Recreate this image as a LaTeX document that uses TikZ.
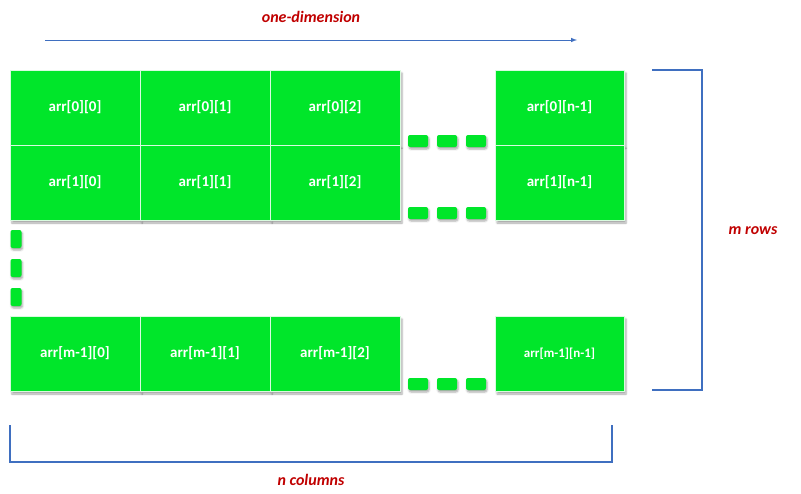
\documentclass[tikz,border=0pt]{standalone}
\usepackage{fontspec}
\setmainfont{Carlito}
\usetikzlibrary{shadows.blur}
\definecolor{cg}{HTML}{00E62A}
\definecolor{lb}{HTML}{3F6FC0}
\definecolor{dr}{HTML}{C00000}
\begin{document}
\begin{tikzpicture}[x=1pt,y=-1pt,
 cell/.style={fill=cg,draw=white!85!cg,line width=0.6pt,minimum width=130,minimum height=75,inner sep=0,text=white,font=\bfseries\fontsize{15}{15}\selectfont,blur shadow={shadow xshift=2pt,shadow yshift=-3pt,shadow opacity=35}},
 dot/.style={fill=cg,rounded corners=2pt,minimum width=20,minimum height=12,inner sep=0,blur shadow={shadow xshift=1pt,shadow yshift=-2pt,shadow opacity=35}},
 vdot/.style={fill=cg,rounded corners=2pt,minimum width=11,minimum height=18,inner sep=0,blur shadow={shadow xshift=1pt,shadow yshift=-2pt,shadow opacity=35}},
 lab/.style={text=dr,font=\bfseries\itshape\fontsize{16}{16}\selectfont},
 br/.style={draw=lb,line width=1.2pt}]
\useasboundingbox (0,0) rectangle (801,493);
\node[cell] (a00) at (75,107.5) {arr[0][0]};
\node[cell] (a01) at (205,107.5) {arr[0][1]};
\node[cell] (a02) at (335,107.5) {arr[0][2]};
\node[cell,minimum width=129] (a0n) at (559.5,107.5) {arr[0][n-1]};
\node[cell] (a10) at (75,182.5) {arr[1][0]};
\node[cell] (a11) at (205,182.5) {arr[1][1]};
\node[cell] (a12) at (335,182.5) {arr[1][2]};
\node[cell,minimum width=129] (a1n) at (559.5,182.5) {arr[1][n-1]};
\node[cell] (am0) at (75,353.5) {arr[m-1][0]};
\node[cell] (am1) at (205,353.5) {arr[m-1][1]};
\node[cell] (am2) at (335,353.5) {arr[m-1][2]};
\node[cell,minimum width=129,font=\bfseries\fontsize{13}{13}\selectfont] (amn) at (559.5,353.5) {arr[m-1][n-1]};
\foreach \x [count=\i] in {418,447,476}{
 \node[dot] (d0\i) at (\x,141) {};
 \node[dot] (d1\i) at (\x,213) {};
 \node[dot] (dm\i) at (\x,384) {};
}
\foreach \y [count=\i] in {239,268,297}{\node[vdot] (v\i) at (16,\y) {};}
\coordinate (ta) at (45,40); \coordinate (tb) at (577,40);
\draw[draw=lb,line width=1pt,-{latex}] (ta) -- (tb);
\node[lab] (t1) at (311,17) {one-dimension};
\coordinate (r1) at (652,70); \coordinate (r2) at (702,70); \coordinate (r3) at (702,390); \coordinate (r4) at (652,390);
\draw[br] (r1) -- (r2) -- (r3) -- (r4);
\node[lab] (t2) at (753,231) {m rows};
\coordinate (b1) at (10,425); \coordinate (b2) at (10,462); \coordinate (b3) at (612,462); \coordinate (b4) at (612,425);
\draw[br] (b1) -- (b2) -- (b3) -- (b4);
\node[lab] (t3) at (311,480) {n columns};
\end{tikzpicture}
\end{document}
